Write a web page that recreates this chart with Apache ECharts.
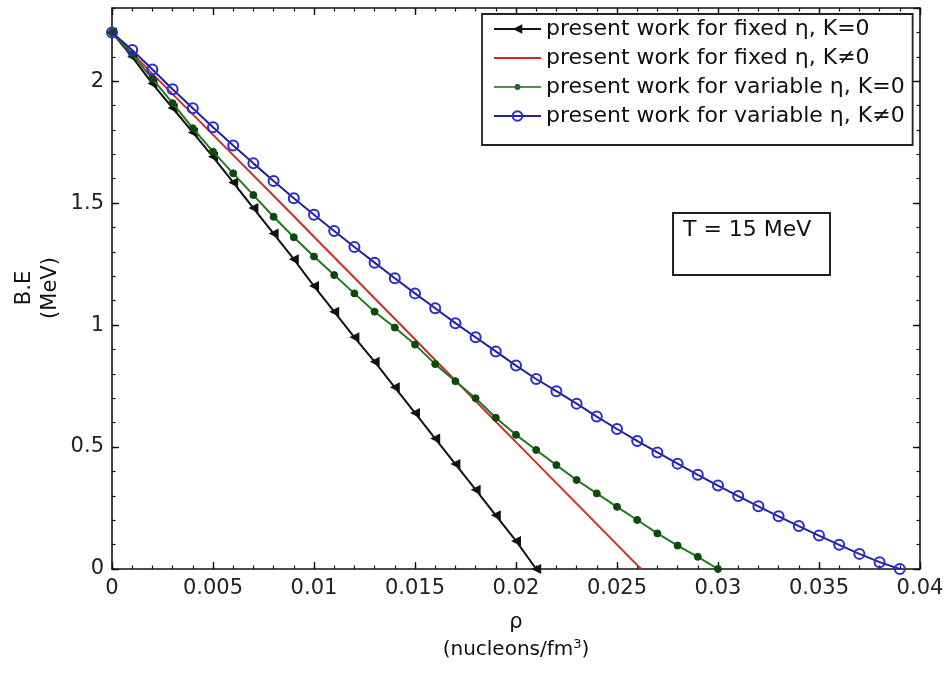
<!DOCTYPE html>
<html>
<head>
<meta charset="utf-8">
<script src="https://cdn.jsdelivr.net/npm/echarts@6/dist/echarts.min.js"></script>
<style>
  html, body { margin: 0; padding: 0; background: #fff; }
  #chart { width: 950px; height: 673px; }
</style>
</head>
<body>
<div id="chart"></div>
<script>
// density grid (nucleons/fm^3), one point every 0.001
const rhoGrid = [0, 0.001, 0.002, 0.003, 0.004, 0.005, 0.006, 0.007, 0.008, 0.009,
  0.010, 0.011, 0.012, 0.013, 0.014, 0.015, 0.016, 0.017, 0.018, 0.019,
  0.020, 0.021, 0.022, 0.023, 0.024, 0.025, 0.026, 0.027, 0.028, 0.029,
  0.030, 0.031, 0.032, 0.033, 0.034, 0.035, 0.036, 0.037, 0.038, 0.039];

// fixed eta, K=0 (black, triangles)
const beFixedK0 = [2.2, 2.10, 1.99, 1.89, 1.79, 1.69, 1.585, 1.48, 1.375, 1.27,
  1.16, 1.055, 0.95, 0.85, 0.745, 0.64, 0.535, 0.43, 0.325, 0.22, 0.115, 0.0];

// fixed eta, K!=0 (red, plain line)
const rhoFixedK = [0, 0.002, 0.004, 0.006, 0.008, 0.010, 0.012, 0.014, 0.016, 0.018,
  0.020, 0.022, 0.024, 0.026, 0.0262];
const beFixedK = [2.2, 2.03, 1.864, 1.697, 1.53, 1.362, 1.194, 1.026, 0.857, 0.689,
  0.52, 0.352, 0.184, 0.016, 0.0];

// variable eta, K=0 (green, dots)
const beVarK0 = [2.2, 2.11, 2.01, 1.91, 1.807, 1.711, 1.622, 1.533, 1.444, 1.36,
  1.281, 1.205, 1.13, 1.055, 0.99, 0.92, 0.84, 0.77, 0.70, 0.62,
  0.55, 0.488, 0.426, 0.365, 0.31, 0.255, 0.201, 0.146, 0.096, 0.05, 0.0];

// variable eta, K!=0 (blue, open circles)
const beVarK = [2.2, 2.128, 2.048, 1.967, 1.889, 1.811, 1.736, 1.663, 1.591, 1.52,
  1.452, 1.386, 1.32, 1.256, 1.192, 1.13, 1.069, 1.008, 0.95, 0.892,
  0.834, 0.779, 0.729, 0.678, 0.625, 0.574, 0.525, 0.478, 0.432, 0.386,
  0.342, 0.299, 0.257, 0.216, 0.176, 0.137, 0.099, 0.062, 0.028, 0.0];

const seriesNames = [
  'present work for fixed \u03b7, K=0',
  'present work for fixed \u03b7, K\u22600',
  'present work for variable \u03b7, K=0',
  'present work for variable \u03b7, K\u22600'
];

const FONT = '"DejaVu Sans", Arial, sans-serif';

// legend icons, 47x12 box kept by tiny corner squares
const corners = 'M0,0H0.01V0.01H0Z M46.99,11.99H47V12H46.99Z ';
const iconRed = 'path://' + corners + 'M0,5.1H47V6.9H0Z';
const iconGreen = 'path://' + corners + 'M0,5.2H47V6.8H0Z M26.5,6A3,3,0,1,1,20.5,6A3,3,0,1,1,26.5,6Z';

function pairs(xs, ys) {
  return ys.map((y, i) => [xs[i], y]);
}

const chart = echarts.init(document.getElementById('chart'));

const xBase = { type: 'value', min: 0, max: 0.04, gridIndex: 0, splitLine: { show: false } };
const yBase = { type: 'value', min: 0, max: 2.3, gridIndex: 0, splitLine: { show: false } };
const lineBlack = { onZero: false, lineStyle: { color: '#111', width: 1.6 } };
const noLine = { show: false, onZero: false };
const majorTick = { inside: true, length: 7, lineStyle: { color: '#111', width: 1.4 } };
const minorTick = { inside: true, length: 3.5, lineStyle: { color: '#111', width: 1.2 } };

const option = {
  animation: false,
  backgroundColor: '#fff',
  textStyle: { fontFamily: FONT },
  grid: { left: 112, right: 30, top: 8, bottom: 104 },
  xAxis: [
    Object.assign({}, xBase, {
      position: 'bottom', interval: 0.005,
      axisLine: lineBlack, axisTick: majorTick,
      axisLabel: { color: '#222', fontSize: 21, margin: 9, fontFamily: FONT,
        formatter: v => String(+v.toFixed(3)) }
    }),
    Object.assign({}, xBase, {
      position: 'bottom', interval: 0.001,
      axisLine: noLine, axisTick: minorTick, axisLabel: { show: false }
    }),
    Object.assign({}, xBase, {
      position: 'top', interval: 0.005,
      axisLine: lineBlack, axisTick: majorTick, axisLabel: { show: false }
    }),
    Object.assign({}, xBase, {
      position: 'top', interval: 0.001,
      axisLine: noLine, axisTick: minorTick, axisLabel: { show: false }
    })
  ],
  yAxis: [
    Object.assign({}, yBase, {
      position: 'left', interval: 0.5,
      axisLine: lineBlack, axisTick: majorTick,
      axisLabel: { color: '#222', fontSize: 21, margin: 8, fontFamily: FONT, showMaxLabel: false }
    }),
    Object.assign({}, yBase, {
      position: 'left', interval: 0.1,
      axisLine: noLine, axisTick: minorTick, axisLabel: { show: false }
    }),
    Object.assign({}, yBase, {
      position: 'right', interval: 0.5,
      axisLine: lineBlack, axisTick: majorTick, axisLabel: { show: false }
    }),
    Object.assign({}, yBase, {
      position: 'right', interval: 0.1,
      axisLine: noLine, axisTick: minorTick, axisLabel: { show: false }
    })
  ],
  legend: {
    orient: 'vertical',
    left: 482,
    top: 14,
    padding: [4, 8, 18, 11],
    itemGap: 7,
    itemWidth: 47,
    itemHeight: 12,
    borderColor: '#222',
    borderWidth: 1.8,
    backgroundColor: '#fff',
    textStyle: { fontSize: 22, color: '#111', fontFamily: FONT },
    data: [
      { name: seriesNames[0] },
      { name: seriesNames[1], icon: iconRed, itemStyle: { borderWidth: 0 } },
      { name: seriesNames[2], icon: iconGreen, itemStyle: { color: '#1f6a1f', borderWidth: 0 } },
      { name: seriesNames[3] }
    ]
  },
  series: [
    {
      name: seriesNames[0],
      type: 'line',
      data: pairs(rhoGrid, beFixedK0),
      symbol: 'triangle',
      symbolRotate: 90,
      symbolSize: 10,
      lineStyle: { color: '#111', width: 2 },
      itemStyle: { color: '#111' },
      z: 3
    },
    {
      name: seriesNames[1],
      type: 'line',
      data: pairs(rhoFixedK, beFixedK),
      symbol: 'none',
      lineStyle: { color: '#d42a2a', width: 2 },
      itemStyle: { color: '#d42a2a' },
      z: 2
    },
    {
      name: seriesNames[2],
      type: 'line',
      data: pairs(rhoGrid, beVarK0),
      symbol: 'circle',
      symbolSize: 7,
      lineStyle: { color: '#1f7a1f', width: 2 },
      itemStyle: { color: '#0c4a0c', borderColor: '#0c4a0c', borderWidth: 1 },
      z: 4
    },
    {
      name: seriesNames[3],
      type: 'line',
      data: pairs(rhoGrid, beVarK),
      symbol: 'circle',
      symbolSize: 10,
      lineStyle: { color: '#22229a', width: 2 },
      itemStyle: { color: 'rgba(0,0,0,0)', borderColor: '#2a2ad4', borderWidth: 2 },
      z: 5
    }
  ],
  graphic: [
    {
      type: 'text',
      x: 38,
      y: 288,
      rotation: Math.PI / 2,
      style: {
        text: 'B.E\n(MeV)',
        fontSize: 21,
        fontFamily: FONT,
        fill: '#111',
        align: 'center',
        verticalAlign: 'middle',
        lineHeight: 26
      }
    },
    {
      type: 'text',
      x: 516,
      y: 612,
      style: {
        text: '\u03c1',
        fontSize: 21,
        fontFamily: FONT,
        fill: '#111',
        align: 'center'
      }
    },
    {
      type: 'text',
      x: 516,
      y: 638,
      style: {
        text: '(nucleons/fm{sup|3})',
        fontSize: 20,
        fontFamily: FONT,
        fill: '#111',
        align: 'center',
        rich: { sup: { fontSize: 13, verticalAlign: 'top', padding: [0, 0, 10, 0], fontFamily: FONT, fill: '#111' } }
      }
    },
    {
      type: 'rect',
      shape: { x: 673, y: 213, width: 157, height: 62 },
      style: { fill: '#fff', stroke: '#222', lineWidth: 2 },
      z: 10
    },
    {
      type: 'text',
      x: 683,
      y: 219,
      style: {
        text: 'T = 15 MeV',
        fontSize: 22,
        fontFamily: FONT,
        fill: '#111'
      },
      z: 11
    }
  ]
};

chart.setOption(option);
</script>
</body>
</html>
